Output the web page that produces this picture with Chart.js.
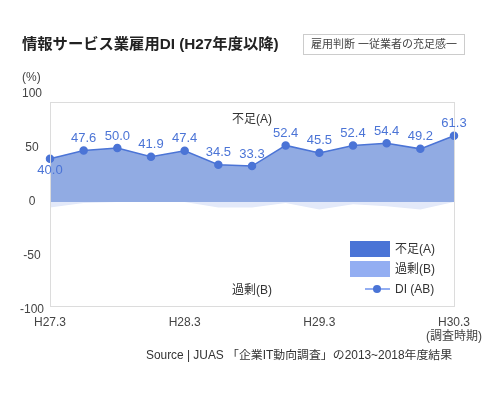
<!DOCTYPE html>
<html>
<head>
<meta charset="utf-8">
<script src="https://cdn.jsdelivr.net/npm/chart.js@4"></script>
<style>
  html, body { margin:0; padding:0; background:#fff; }
  body { width:500px; height:395px; position:relative; overflow:hidden;
         font-family:"Liberation Sans","Noto Sans CJK JP",sans-serif; color:#333; }
  #wrap { position:absolute; left:0; top:0; width:500px; height:395px; }
  .abs { position:absolute; white-space:nowrap; }
  #title { left:22px; top:34px; font-size:15.3px; font-weight:bold; color:#222; line-height:20px; }
  #tag { left:303px; top:34px; width:160px; height:19px; border:1px solid #ccc; font-size:11px;
         color:#444; line-height:19px; text-align:center; }
  #unit { left:22px; top:70px; font-size:12px; color:#444; line-height:14px; }
  #lblA, #lblB { font-size:12px; color:#333; line-height:14px; transform:translateX(-50%); }
  #lblA { left:252px; top:112px; }
  #lblB { left:252px; top:283px; }
  #legend .sw { position:absolute; left:350px; width:40px; height:16px; }
  #legend .tx { position:absolute; left:395px; font-size:12px; color:#333; line-height:14px; }
  #source { left:146px; top:348px; font-size:11.9px; color:#333; line-height:14px; font-weight:normal; }
</style>
</head>
<body>
<div id="wrap"><canvas id="c" width="500" height="395"></canvas></div>
<div id="title" class="abs">情報サービス業雇用DI (H27年度以降)</div>
<div id="tag" class="abs">雇用判断 一従業者の充足感一</div>
<div id="unit" class="abs">(%)</div>
<div id="lblA" class="abs">不足(A)</div>
<div id="lblB" class="abs">過剰(B)</div>
<div id="legend">
  <div class="sw" style="top:241px;background:#4a74d6;"></div>
  <div class="tx" style="top:242px;">不足(A)</div>
  <div class="sw" style="top:261px;background:#93aef2;"></div>
  <div class="tx" style="top:262px;">過剰(B)</div>
  <div class="abs" style="left:365px;top:288px;width:25px;height:2px;background:#93aef2;"></div>
  <div class="abs" style="left:373px;top:285px;width:8px;height:8px;border-radius:50%;background:#4a74d6;"></div>
  <div class="tx" style="top:282px;">DI (AB)</div>
</div>
<div id="source" class="abs">Source | JUAS 「企業IT動向調査」の2013~2018年度結果</div>
<script>
// ---- data ----
const periods = ['H27.3','H27.6','H27.9','H27.12','H28.3','H28.6','H28.9','H28.12','H29.3','H29.6','H29.9','H29.12','H30.3'];
const tickLabels = ['H27.3','','','','H28.3','','','','H29.3','','','',['H30.3','(調査時期)']];
const diValues = [40.0, 47.6, 50.0, 41.9, 47.4, 34.5, 33.3, 52.4, 45.5, 52.4, 54.4, 49.2, 61.3];
const surplusValues = [-5, -1, 0, 0, 0, -5, -5, -1, -7, -2, -4, -7, 0];
const yTicks = [-100, -50, 0, 50, 100];

const LINE = '#4b74d6';
const FILL_A = '#91abe3';
const FILL_B = '#e3e9f9';
const FONT = '"Liberation Sans","Noto Sans CJK JP",sans-serif';

const boxPlugin = {
  id: 'box',
  afterDatasetsDraw(chart) {
    const a = chart.chartArea, ctx = chart.ctx;
    const top = Math.round(a.top) + 8, bottom = Math.round(a.bottom) - 4;
    ctx.save();
    ctx.strokeStyle = '#dcdcdc';
    ctx.lineWidth = 1;
    ctx.strokeRect(Math.round(a.left) + 0.5, top + 0.5,
                   Math.round(a.right - a.left), bottom - top);
    ctx.restore();
  }
};

const labelPlugin = {
  id: 'dlabels',
  afterDatasetsDraw(chart) {
    const meta = chart.getDatasetMeta(1);
    const ctx = chart.ctx;
    ctx.save();
    ctx.font = '13px ' + FONT;
    ctx.fillStyle = LINE;
    ctx.textAlign = 'center';
    ctx.textBaseline = 'middle';
    meta.data.forEach((pt, i) => {
      const dy = i === 0 ? 12 : -12;
      ctx.fillText(diValues[i].toFixed(1), pt.x, pt.y + dy);
    });
    ctx.restore();
  }
};

new Chart(document.getElementById('c'), {
  type: 'line',
  data: {
    labels: periods,
    datasets: [
      {
        label: '過剰(B)',
        data: surplusValues,
        fill: 'origin',
        backgroundColor: FILL_B,
        borderWidth: 0,
        pointRadius: 0,
        order: 2
      },
      {
        label: 'DI (AB)',
        data: diValues,
        fill: 'origin',
        backgroundColor: FILL_A,
        borderColor: LINE,
        borderWidth: 1.5,
        pointRadius: 3.5,
        pointBackgroundColor: LINE,
        pointBorderColor: LINE,
        tension: 0,
        order: 1
      }
    ]
  },
  options: {
    responsive: false,
    animation: false,
    events: [],
    layout: { padding: { left: 14, right: 46, top: 94, bottom: 45 } },
    plugins: { legend: { display: false }, tooltip: { enabled: false } },
    scales: {
      x: {
        type: 'category',
        offset: false,
        grid: { display: false, drawTicks: false },
        border: { display: false },
        afterFit(s) { s.height = 40; },
        ticks: {
          autoSkip: false, maxRotation: 0, minRotation: 0, padding: 5,
          color: '#444', font: { size: 12, family: FONT },
          callback: (v, i) => tickLabels[i]
        }
      },
      y: {
        min: -100, max: 100,
        grid: { display: false, drawTicks: false },
        border: { display: false },
        afterFit(s) { s.width = 36; },
        afterBuildTicks(s) { s.ticks = yTicks.map(v => ({ value: v })); },
        ticks: {
          padding: 6, crossAlign: 'center',
          color: '#444', font: { size: 12, family: FONT }
        }
      }
    }
  },
  plugins: [boxPlugin, labelPlugin]
});
</script>
</body>
</html>
